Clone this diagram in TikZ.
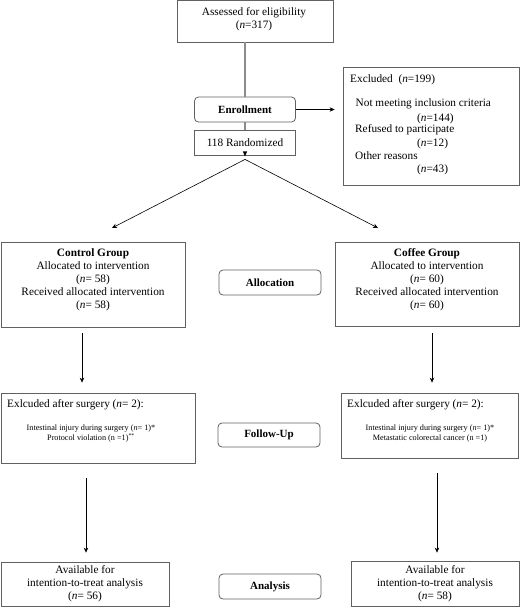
\documentclass[tikz,border=0pt]{standalone}
\usepackage{fontspec}
\setmainfont{Liberation Serif}
\usetikzlibrary{arrows.meta}
\begin{document}
\begin{tikzpicture}[x=1pt,y=-1pt,
  box/.style={draw=black!62, line width=0.8pt, inner sep=0pt, fill=white},
  rbox/.style={box, rounded corners=4pt, font=\fontsize{11}{13}\selectfont\bfseries},
  txt/.style={inner sep=0pt, align=center, font=\fontsize{11.3}{13}\selectfont},
  small/.style={inner sep=0pt, align=center, font=\fontsize{8.2}{9.5}\selectfont},
  arr/.style={draw=black, line width=0.6pt, -{Stealth[length=5pt,width=4.5pt]}},
  grayline/.style={draw=black!45, line width=1.6pt},
]
\useasboundingbox (0,0) rectangle (520,608);
% boxes
\node[box, minimum width=156pt, minimum height=41.5pt] (assess) at (255,21.25) {};
\node[txt, anchor=north] (assesst) at (254,5.9) {\strut Assessed for eligibility\\(\textit{n}=317)};
\node[rbox, minimum width=101pt, minimum height=25pt] (enroll) at (245,109.5) {Enrollment};
\node[box, txt, minimum width=101pt, minimum height=25pt] (rand) at (245,142.5) {118 Randomized};
\node[box, minimum width=176pt, minimum height=118pt] (excl) at (431,126) {};
\node[txt, anchor=base west] (ex1) at (350,82) {Excluded\ \ (\textit{n}=199)};
\node[txt, anchor=base west] (ex2) at (355.5,106.7) {Not meeting inclusion criteria};
\node[txt, anchor=base west] (ex3) at (417,121) {(\textit{n}=144)};
\node[txt, anchor=base west] (ex4) at (355,132.7) {Refused to participate};
\node[txt, anchor=base west] (ex5) at (417,146.7) {(\textit{n}=12)};
\node[txt, anchor=base west] (ex6) at (355,159) {Other reasons};
\node[txt, anchor=base west] (ex7) at (417,172.7) {(\textit{n}=43)};

\node[box, minimum width=184pt, minimum height=85pt] (ctrl) at (93,284.5) {};
\node[txt, anchor=north] (ctrlt) at (93,246.9) {\strut\textbf{Control Group}\\Allocated to intervention\\(\textit{n}= 58)\\Received allocated intervention\\(\textit{n}= 58)};
\node[rbox, minimum width=102pt, minimum height=25pt] (alloc) at (270,282.5) {Allocation};
\node[box, minimum width=184pt, minimum height=84pt] (coffee) at (427,284) {};
\node[txt, anchor=north] (coffeet) at (427,246.9) {\strut\textbf{Coffee Group}\\Allocated to intervention\\(\textit{n}= 60)\\Received allocated intervention\\(\textit{n}= 60)};

\node[box, minimum width=194pt, minimum height=70pt] (fuctrl) at (98,428) {};
\node[txt, anchor=base west] (fuctrlh) at (7,407) {Exlcuded after surgery (\textit{n}= 2):};
\node[small, anchor=north] (fuctrlt) at (91,424.05) {\strut Intestinal injury during surgery (\textit{n}= 1)*\\Protocol violation (n =1)\textsuperscript{**}};
\node[rbox, minimum width=102pt, minimum height=24pt] (fu) at (269,435) {Follow-Up};
\node[box, minimum width=177pt, minimum height=65pt] (fucof) at (429.5,425.5) {};
\node[txt, anchor=base west] (fucofh) at (347,407) {Exlcuded after surgery (\textit{n}= 2):};
\node[small, anchor=north] (fucoft) at (430,424.05) {\strut Intestinal injury during surgery (\textit{n}= 1)*\\Metastatic colorectal cancer (n =1)};

\node[box, txt, minimum width=168pt, minimum height=44pt] (anctrl) at (85,584) {Available for\\intention-to-treat analysis\\(\textit{n}= 56)};
\node[rbox, minimum width=102pt, minimum height=25pt] (an) at (270,586.5) {Analysis};
\node[box, txt, minimum width=168pt, minimum height=45pt] (ancof) at (435,583.5) {Available for\\intention-to-treat analysis\\(\textit{n}= 58)};

% connectors
\draw[grayline] (enroll.north) -- (enroll.north |- assess.south);
\draw[grayline] (enroll.south) -- (rand.north);
\draw[arr, shorten >=8pt] (enroll.east) -- (enroll.east -| excl.west);
\fill ([xshift=-2.2pt,yshift=4pt]rand.south) -- ([xshift=2.2pt,yshift=4pt]rand.south) -- ([yshift=-1pt]rand.south) -- cycle;
\coordinate (lt) at (112,228);
\coordinate (rt) at (378,228);
\draw[arr] ([yshift=-4pt]rand.south) -- (lt);
\draw[arr] ([yshift=-4pt]rand.south) -- (rt);
\draw[arr] ([xshift=-11pt,yshift=-6pt]ctrl.south) -- ([xshift=-16pt,yshift=10pt]fuctrl.north);
\draw[arr] ([xshift=5pt,yshift=-7pt]coffee.south) -- ([xshift=2.5pt,yshift=10pt]fucof.north);
\draw[arr] ([xshift=-12pt,yshift=-15pt]fuctrl.south) -- ([xshift=1pt,yshift=9pt]anctrl.north);
\draw[arr] ([xshift=7.5pt,yshift=-15pt]fucof.south) -- ([xshift=2pt,yshift=8pt]ancof.north);
\end{tikzpicture}
\end{document}
